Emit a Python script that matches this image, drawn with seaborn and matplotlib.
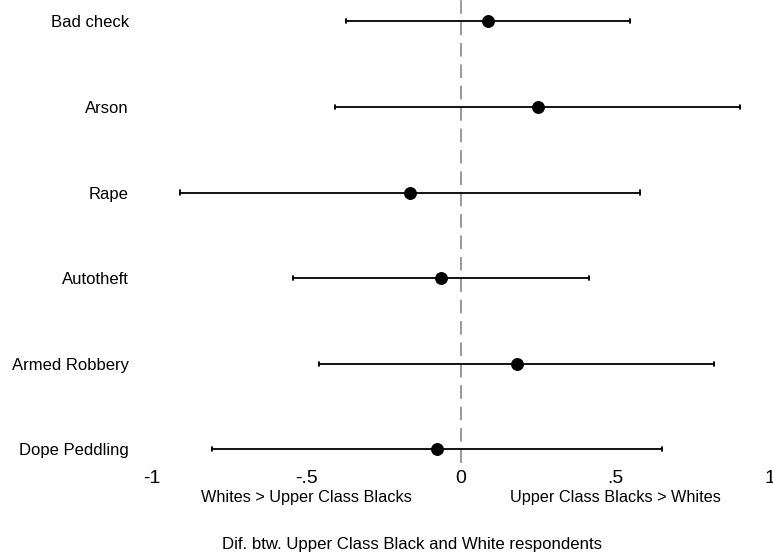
import matplotlib
matplotlib.use("Agg")
import matplotlib.pyplot as plt
import seaborn as sns
import pandas as pd

# Differences (Upper Class Black minus White respondents) with 95% bounds
crimes = ["Bad check", "Arson", "Rape", "Autotheft", "Armed Robbery", "Dope Peddling"]
estimate = [0.088, 0.249, -0.163, -0.064, 0.181, -0.077]
lower = [-0.372, -0.406, -0.908, -0.541, -0.457, -0.805]
upper = [0.549, 0.905, 0.582, 0.414, 0.820, 0.652]

xticks = [-1, -0.5, 0, 0.5, 1]
xticklabels = ["-1", "-.5", "0", ".5", "1"]
side_notes = {-0.5: "Whites > Upper Class Blacks", 0.5: "Upper Class Blacks > Whites"}
title = "Dif. btw. Upper Class Black and White respondents"

# Long form: each crime gets its lower bound, estimate and upper bound;
# the median is the estimate and the full range is the interval.
rows = []
for c, lo, est, hi in zip(crimes, lower, estimate, upper):
    for v in (lo, est, hi):
        rows.append({"crime": c, "diff": v})
df = pd.DataFrame(rows)

sns.set_theme(style="white")
plt.rcParams["font.family"] = ["Liberation Sans", "DejaVu Sans"]
plt.rcParams["text.color"] = "black"

W, H = 773, 558
fig = plt.figure(figsize=(W / 100, H / 100), dpi=100)
ax_left, ax_right, ax_top, ax_bottom = 138, 773, 0, 463
ax = fig.add_axes([ax_left / W, 1 - ax_bottom / H,
                   (ax_right - ax_left) / W, (ax_bottom - ax_top) / H])

ax.axvline(0, color="#999999", linewidth=1.4, dashes=(7, 4), zorder=0)

sns.pointplot(data=df, x="diff", y="crime", order=crimes, orient="h",
              estimator="median", errorbar=("pi", 100),
              color="black", markers="o", linestyle="none",
              capsize=0.05, markersize=8.3, linewidth=1.3,
              err_kws={"linewidth": 1.3}, ax=ax)

ax.set_xlim(-1.044, 1.011)
ax.set_ylim(5.16, -0.249)
ax.set_xticks(xticks)
ax.set_xticklabels(xticklabels, fontsize=14)
ax.tick_params(axis="x", length=1.5, width=1, color="#888888", pad=3.5,
               labelcolor="black")
ax.tick_params(axis="y", length=1.5, width=1, color="#888888", pad=5,
               labelsize=12, labelcolor="black")
for s in ax.spines.values():
    s.set_visible(False)
ax.set_xlabel("")
ax.set_ylabel("")

for xv, txt in side_notes.items():
    ax.text(xv, -0.0836, txt, transform=ax.get_xaxis_transform(),
            ha="center", va="baseline", fontsize=11.7, color="black")

fig.text(412 / W, 1 - 545 / H, title, ha="center", va="center",
         fontsize=12.1, color="black")

fig.savefig("out.png", dpi=100)
